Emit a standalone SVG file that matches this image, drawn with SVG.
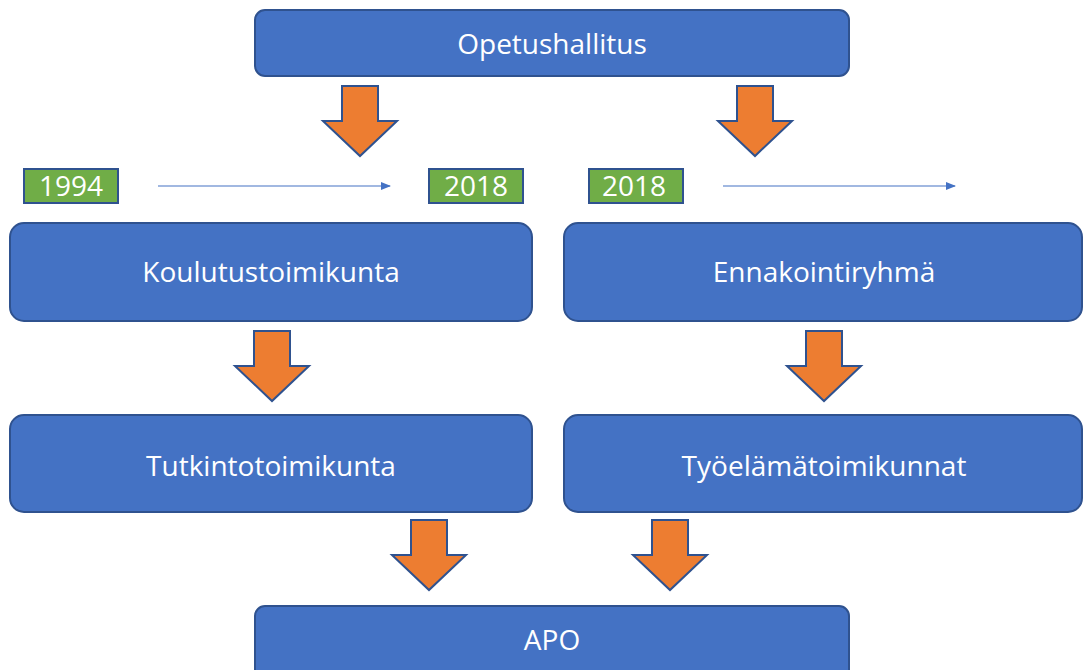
<svg xmlns="http://www.w3.org/2000/svg" width="1083" height="670" viewBox="0 0 1083 670">
<defs>
<style>
.box{fill:#4472C4;stroke:#2F528F;stroke-width:2}
.yr{fill:#70AD47;stroke:#2F528F;stroke-width:2}
.lbl{font-family:"Open Sans","Liberation Sans",sans-serif;font-size:28px;fill:#FFFFFF;text-anchor:middle}
.arr{fill:#ED7D31;stroke:#2F528F;stroke-width:2;stroke-linejoin:miter}
.thin{stroke:#4472C4;stroke-width:1.2;fill:none}
</style>
<marker id="ah" markerWidth="10" markerHeight="8" refX="9" refY="4" orient="auto" markerUnits="userSpaceOnUse">
<path d="M0,0 L10,4 L0,8 Z" fill="#4472C4"/>
</marker>
<path id="down" d="M-18,0 H18 V35 H37 L0,70 L-37,35 H-18 Z"/>
</defs>
<rect width="1083" height="670" fill="#FFFFFF"/>
<g id="connectors">
<use href="#down" class="arr" x="360" y="86"/>
<use href="#down" class="arr" x="755" y="86"/>
<use href="#down" class="arr" x="272" y="331"/>
<use href="#down" class="arr" x="824" y="331"/>
<use href="#down" class="arr" x="429" y="520"/>
<use href="#down" class="arr" x="670" y="520"/>
<line class="thin" x1="158" y1="186" x2="390" y2="186" marker-end="url(#ah)"/>
<line class="thin" x1="723" y1="186" x2="955" y2="186" marker-end="url(#ah)"/>
</g>
<g id="opetushallitus">
<rect class="box" x="255" y="10" width="594" height="66" rx="10"/>
<text class="lbl" x="552" y="54">Opetushallitus</text>
</g>
<g id="y1994">
<rect class="yr" x="24" y="169" width="94" height="34"/>
<text class="lbl" x="71" y="196">1994</text>
</g>
<g id="y2018a">
<rect class="yr" x="429" y="169" width="94" height="34"/>
<text class="lbl" x="476" y="196">2018</text>
</g>
<g id="y2018b">
<rect class="yr" x="589" y="169" width="94" height="34"/>
<text class="lbl" x="634" y="196">2018</text>
</g>
<g id="koulutustoimikunta">
<rect class="box" x="10" y="223" width="522" height="98" rx="14"/>
<text class="lbl" x="271" y="282">Koulutustoimikunta</text>
</g>
<g id="ennakointiryhma">
<rect class="box" x="564" y="223" width="518" height="98" rx="14"/>
<text class="lbl" x="824" y="282">Ennakointiryhmä</text>
</g>
<g id="tutkintotoimikunta">
<rect class="box" x="10" y="415" width="522" height="97" rx="14"/>
<text class="lbl" x="271" y="476">Tutkintotoimikunta</text>
</g>
<g id="tyoelamatoimikunnat">
<rect class="box" x="564" y="415" width="518" height="97" rx="14"/>
<text class="lbl" x="824" y="476">Työelämätoimikunnat</text>
</g>
<g id="apo">
<rect class="box" x="255" y="606" width="594" height="80" rx="10"/>
<text class="lbl" x="552" y="650">APO</text>
</g>
</svg>
